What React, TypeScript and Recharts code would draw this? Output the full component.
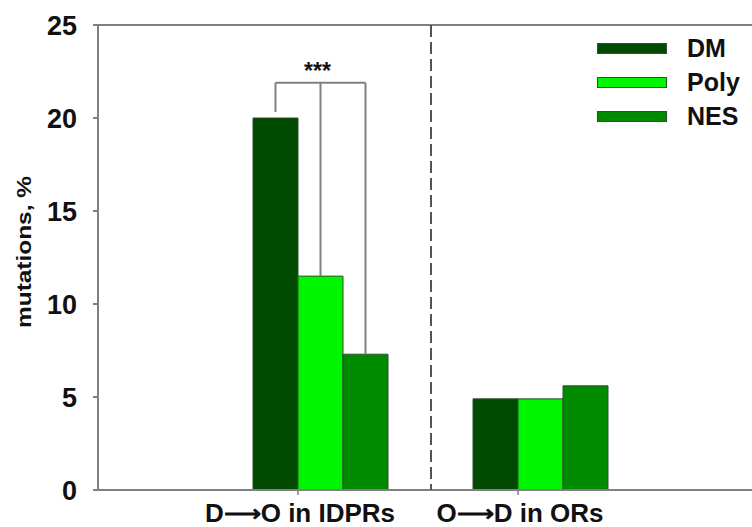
import React from "react"
import {
  BarChart, Bar, XAxis, YAxis, ReferenceLine
} from "recharts"

// values
const categories = ["D\u27F6O in IDPRs", "O\u27F6D in ORs"]
const dm = [20, 4.9]
const poly = [11.5, 4.9]
const nes = [7.3, 5.6]
const yTicks = [0, 5, 10, 15, 20, 25]
const yMax = 25
const seriesNames = ["DM", "Poly", "NES"]
const seriesColors = ["#014a01", "#00f500", "#008a00"]

// significance bracket over the first group
const bracketLevel = 21.9
const starsLevel = 22.1
const stars = "***"

const data = categories.map((c, i) => ({ cat: c, DM: dm[i], Poly: poly[i], NES: nes[i] }))

const font = "'Liberation Sans', Arial, sans-serif"
const axisColor = "#808080"
const groupGap = 43

// draws the bracket legs (and for DM the bar + stars) from the bar's own geometry
function bracketLabel(kind: "DM" | "Poly" | "NES") {
  return (props: any) => {
    const { x, y, width, height, value, index } = props
    if (index !== 0 || !value) return null
    const base = y + height
    const pxPerUnit = height / value
    const by = base - bracketLevel * pxPerUnit
    const cx = x + width / 2
    if (kind === "DM") {
      const sy = base - starsLevel * pxPerUnit
      return (
        <g>
          <line x1={cx} y1={y - 6} x2={cx} y2={by} stroke={axisColor} strokeWidth={2} />
          <line x1={cx} y1={by} x2={cx + 2 * width} y2={by} stroke={axisColor} strokeWidth={2} />
          <text x={cx + width - 3} y={sy} textAnchor="middle" fontFamily={font} fontWeight="bold" fontSize={23} fill="#111">{stars}</text>
        </g>
      )
    }
    if (kind === "NES") {
      // dashed divider between the two groups
      const dx = x + width + groupGap
      return (
        <g>
          <line x1={cx} y1={y} x2={cx} y2={by} stroke={axisColor} strokeWidth={2} />
          <line x1={dx} y1={base - yMax * pxPerUnit} x2={dx} y2={base} stroke="#555" strokeWidth={2} strokeDasharray="12 5" />
        </g>
      )
    }
    return <line x1={cx} y1={y} x2={cx} y2={by} stroke={axisColor} strokeWidth={2} />
  }
}

function XTick(props: any) {
  const { x, y, payload } = props
  return (
    <g>
      <line x1={x - 22} y1={y - 8} x2={x - 22} y2={y - 3} stroke={axisColor} strokeWidth={1.5} />
      <text x={x - 20} y={y + 24} textAnchor="middle" fontFamily={font} fontWeight="bold" fontSize={26} fill="#111">{payload.value}</text>
    </g>
  )
}

function LegendBox() {
  return (
    <div style={{ position: "absolute", left: 597, top: 31, fontFamily: font, fontWeight: "bold", fontSize: 25, color: "#111" }}>
      {seriesNames.map((n, i) => (
        <div key={n} style={{ display: "flex", alignItems: "center", height: 34 }}>
          <div style={{ width: 68, height: 9, background: seriesColors[i], border: "1px solid #2f4f2f", marginRight: 20 }} />
          <span>{n}</span>
        </div>
      ))}
    </div>
  )
}

function YLabel() {
  return (
    <text transform="translate(31, 252) rotate(-90)" textAnchor="middle" fontFamily={font} fontWeight="bold" fontSize={20}
      textLength={152} lengthAdjust="spacingAndGlyphs" fill="#111">
      mutations, %
    </text>
  )
}

export default function App() {
  return (
    <div style={{ position: "absolute", left: 0, top: 0, width: 752, height: 527, overflow: "hidden", background: "#fff" }}>
      <BarChart width={762} height={527} data={data} margin={{ top: 25, right: 0, left: 0, bottom: 0 }}
        barCategoryGap={groupGap} barGap={0}>
        <XAxis dataKey="cat" height={37} padding={{ left: 112, right: 112 }} tick={<XTick />} tickLine={false}
          axisLine={{ stroke: axisColor, strokeWidth: 2 }} interval={0} />
        <YAxis width={98} domain={[0, yMax]} ticks={yTicks} tickSize={5} tickMargin={16}
          axisLine={{ stroke: axisColor, strokeWidth: 2 }} tickLine={{ stroke: axisColor, strokeWidth: 2 }}
          tick={{ fontFamily: font, fontWeight: "bold", fontSize: 27, fill: "#111" }}
          label={<YLabel />} />
        <ReferenceLine y={yMax} stroke={axisColor} strokeWidth={2} />
        <Bar dataKey="DM" fill={seriesColors[0]} stroke="#2f4f2f" strokeWidth={1} isAnimationActive={false} label={bracketLabel("DM")} />
        <Bar dataKey="Poly" fill={seriesColors[1]} stroke="#2f4f2f" strokeWidth={1} isAnimationActive={false} label={bracketLabel("Poly")} />
        <Bar dataKey="NES" fill={seriesColors[2]} stroke="#2f4f2f" strokeWidth={1} isAnimationActive={false} label={bracketLabel("NES")} />
      </BarChart>
      <LegendBox />
    </div>
  )
}
